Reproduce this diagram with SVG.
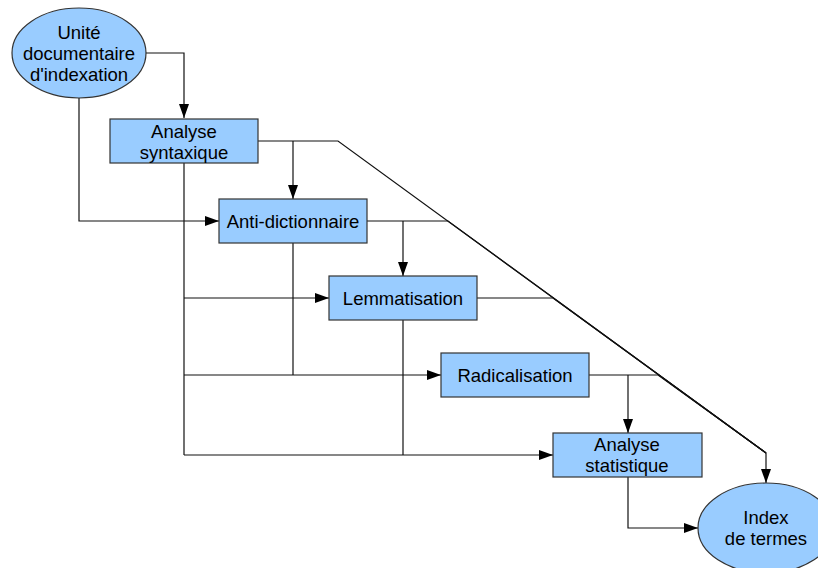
<svg xmlns="http://www.w3.org/2000/svg" width="818" height="568" viewBox="0 0 818 568">
  <style>
    .node { fill: #99ccff; stroke: #333333; stroke-width: 1.2; }
    .lbl { font-family: "Liberation Sans", Arial, sans-serif; font-size: 18.5px; fill: #000; text-anchor: middle; }
    .wire { fill: none; stroke: #111; stroke-width: 1.2; }
    .arr { fill: none; stroke: #111; stroke-width: 1.2; marker-end: url(#head); }
  </style>
  <defs>
    <marker id="head" viewBox="0 0 14 10" refX="14" refY="5" markerWidth="14" markerHeight="10" markerUnits="userSpaceOnUse" orient="auto">
      <path d="M0,0 L14,5 L0,10 Z" fill="#000"/>
    </marker>
  </defs>

  <rect width="818" height="568" fill="#ffffff"/>

  <g id="connectors">
    <!-- from source document -->
    <path class="arr" d="M146,53 H184 V118"/>
    <path class="arr" d="M79,98 V221 H219"/>
    <!-- syntax analysis outputs -->
    <path class="arr" d="M258,141 H338 L766,453 V483"/>
    <path class="arr" d="M293,141 V199"/>
    <path class="wire" d="M184,163 V455"/>
    <path class="arr" d="M184,298 H329"/>
    <path class="arr" d="M184,375 H441"/>
    <path class="arr" d="M184,455 H553"/>
    <!-- anti-dictionary outputs -->
    <path class="wire" d="M367,221 H448 L766,453"/>
    <path class="arr" d="M403,221 V276"/>
    <path class="wire" d="M293,243 V375"/>
    <!-- lemmatisation outputs -->
    <path class="wire" d="M477,298 H553 L766,453"/>
    <path class="wire" d="M403,320 V455"/>
    <!-- radicalisation outputs -->
    <path class="wire" d="M589,375 H658 L766,453"/>
    <path class="arr" d="M628,375 V433"/>
    <!-- statistics to index -->
    <path class="arr" d="M628,477 V528 H698"/>
  </g>

  <g id="unite">
    <ellipse class="node" cx="79" cy="53" rx="67" ry="45"/>
    <text class="lbl" x="79" y="39">Unité</text>
    <text class="lbl" x="79" y="60">documentaire</text>
    <text class="lbl" x="79" y="81">d'indexation</text>
  </g>

  <g id="syntaxe">
    <rect class="node" x="110" y="119" width="148" height="44"/>
    <text class="lbl" x="184" y="138">Analyse</text>
    <text class="lbl" x="184" y="159">syntaxique</text>
  </g>

  <g id="antidico">
    <rect class="node" x="219" y="199" width="148" height="44"/>
    <text class="lbl" x="293" y="228">Anti-dictionnaire</text>
  </g>

  <g id="lemmatisation">
    <rect class="node" x="329" y="276" width="148" height="44"/>
    <text class="lbl" x="403" y="305">Lemmatisation</text>
  </g>

  <g id="radicalisation">
    <rect class="node" x="441" y="353" width="148" height="44"/>
    <text class="lbl" x="515" y="382">Radicalisation</text>
  </g>

  <g id="statistique">
    <rect class="node" x="553" y="433" width="149" height="44"/>
    <text class="lbl" x="627" y="451">Analyse</text>
    <text class="lbl" x="627" y="472">statistique</text>
  </g>

  <g id="index">
    <ellipse class="node" cx="766" cy="528" rx="68" ry="45"/>
    <text class="lbl" x="766" y="524">Index</text>
    <text class="lbl" x="766" y="545">de termes</text>
  </g>
</svg>
